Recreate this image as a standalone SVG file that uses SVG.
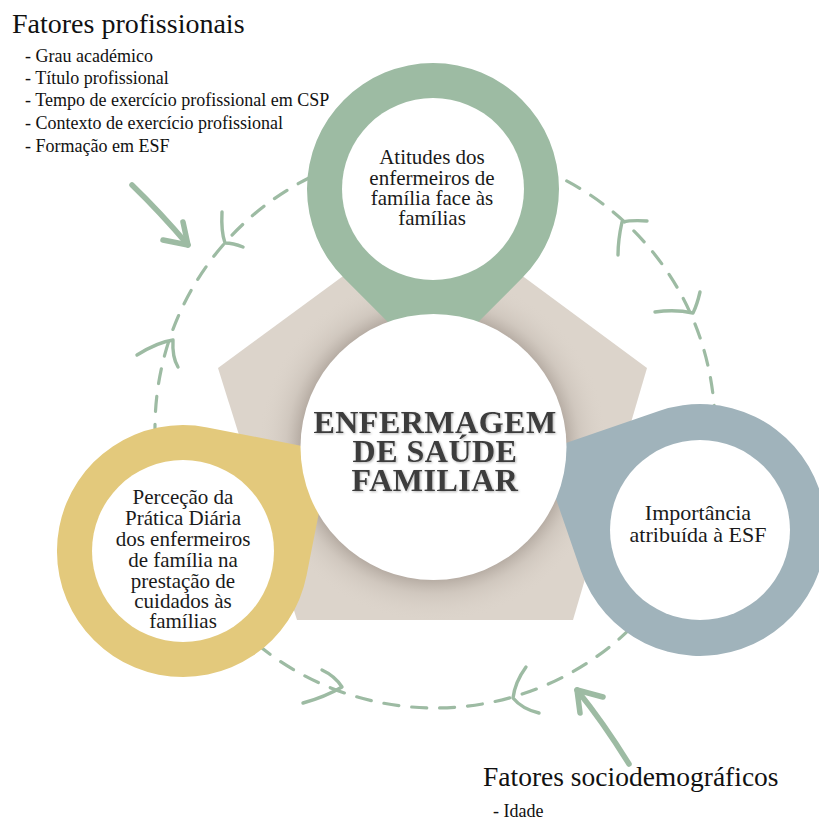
<svg xmlns="http://www.w3.org/2000/svg" width="819" height="823" viewBox="0 0 819 823">
<defs>
<style>
.dash{fill:none;stroke:#9dbba3;stroke-width:3.2;stroke-linecap:round;stroke-dasharray:15 13}
.head{fill:none;stroke:#9dbba3;stroke-width:3.4;stroke-linecap:round;stroke-linejoin:round}
.big{fill:none;stroke:#9dbba3;stroke-width:5.5;stroke-linecap:round;stroke-linejoin:round}
text{font-family:"Liberation Serif","DejaVu Serif","Noto Serif",serif}
.lbl{fill:#1a1a1a;text-anchor:middle}
.side{fill:#111}
.core{font-weight:bold;fill:#3c3c3c;text-anchor:middle;font-size:32px;letter-spacing:0.5px}
</style>
<clipPath id="pentClip"><polygon points="433,210 647,368 573,620 297,620 218,368"/></clipPath>
<radialGradient id="shade" cx="433" cy="447" r="175" gradientUnits="userSpaceOnUse">
<stop offset="0.74" stop-color="#8a7e75" stop-opacity="0.55"/>
<stop offset="0.84" stop-color="#a79c93" stop-opacity="0.22"/>
<stop offset="1" stop-color="#dcd4cb" stop-opacity="0"/>
</radialGradient>
<filter id="tshadow" x="-10%" y="-10%" width="120%" height="130%">
<feDropShadow dx="1" dy="1" stdDeviation="0.8" flood-color="#000" flood-opacity="0.3"/>
</filter>
</defs>
<rect width="819" height="823" fill="#ffffff"/>

<g id="connectors">
<circle class="dash" cx="435" cy="428" r="280"/>
<path class="head" d="M222,212 Q221,232 225,243 Q233,243 243,247"/>
<path class="head" d="M137,355 Q158,342 173,340 Q172,357 178,367"/>
<path class="head" d="M647,221 Q632,220 622,222 Q618,240 618,255"/>
<path class="head" d="M700,292 Q697,305 693,313 Q675,309 655,312"/>
<path class="head" d="M322,670 Q335,676 342,687 Q325,697 303,703"/>
<path class="head" d="M526,667 Q515,682 513,698 Q522,709 539,713"/>
<path class="big" d="M132,185 Q160,212 188,245"/>
<path class="big" d="M163,240 L188,245 L183,222"/>
<path class="big" d="M629,764 Q603,722 577,690"/>
<path class="big" d="M603,697 L577,690 L580,713"/>
</g>

<g id="pentagon">
<polygon points="433,210 647,368 573,620 297,620 218,368" fill="#dcd4cb"/>
<circle cx="433" cy="447" r="175" fill="url(#shade)" clip-path="url(#pentClip)"/>
</g>

<g id="node-atitudes">
<path d="M433,367.2 L343.9,278.1 A126,126 0 1 1 522.1,278.1 Z" fill="#9dbba3"/>
<circle cx="433" cy="189" r="91" fill="#ffffff"/>
<text class="lbl" font-size="21"><tspan x="432" y="164">Atitudes dos</tspan><tspan x="432" y="185">enfermeiros de</tspan><tspan x="432" y="205">família face às</tspan><tspan x="432" y="225">famílias</tspan></text>
</g>

<g id="node-percecao">
<path d="M330.9,451.7 L306.6,575.3 A126,126 0 1 1 207.3,427.4 Z" fill="#e3c97c"/>
<circle cx="183" cy="551" r="91" fill="#ffffff"/>
<text class="lbl" font-size="21"><tspan x="183" y="504">Perceção da</tspan><tspan x="183" y="525">Prática Diária</tspan><tspan x="183" y="546">dos enfermeiros</tspan><tspan x="183" y="567">de família na</tspan><tspan x="183" y="588">prestação de</tspan><tspan x="183" y="608">cuidados às</tspan><tspan x="183" y="628">famílias</tspan></text>
</g>

<g id="node-importancia">
<path d="M539.8,451.9 L658.9,410.9 A126,126 0 1 1 580.9,571.1 Z" fill="#a0b3bb"/>
<circle cx="700" cy="530" r="90" fill="#ffffff"/>
<text class="lbl" font-size="22"><tspan x="698" y="520">Importância</tspan><tspan x="698" y="542">atribuída à ESF</tspan></text>
</g>

<g id="node-center">
<circle cx="433.5" cy="447" r="133" fill="#ffffff"/>
<text class="core" filter="url(#tshadow)"><tspan x="435" y="433">ENFERMAGEM</tspan><tspan x="435" y="462">DE SAÚDE</tspan><tspan x="435" y="491">FAMILIAR</tspan></text>
</g>

<g id="fatores-profissionais">
<text class="side" x="12" y="33" font-size="28">Fatores profissionais</text>
<text class="side" font-size="18"><tspan x="25" y="62">- Grau académico</tspan><tspan x="25" y="84">- Título profissional</tspan><tspan x="25" y="106">- Tempo de exercício profissional em CSP</tspan><tspan x="25" y="129">- Contexto de exercício profissional</tspan><tspan x="25" y="152">- Formação em ESF</tspan></text>
</g>

<g id="fatores-sociodemograficos">
<text class="side" x="483" y="786" font-size="27.5">Fatores sociodemográficos</text>
<text class="side" x="493" y="817" font-size="18">- Idade</text>
</g>
</svg>
